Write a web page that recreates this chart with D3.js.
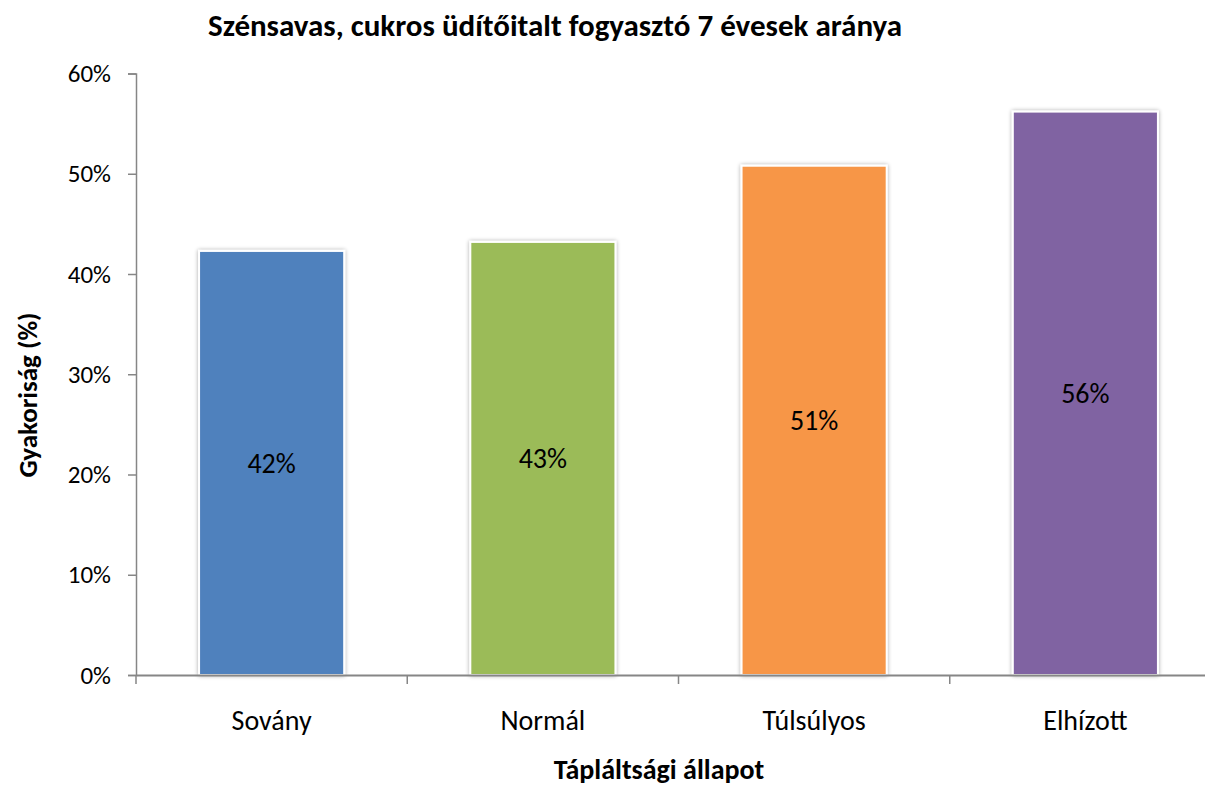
<!DOCTYPE html>
<html>
<head>
<meta charset="utf-8">
<script src="https://cdn.jsdelivr.net/npm/d3@7"></script>
<style>
  body { margin: 0; background: #fff; }
  text { font-family: Carlito, Calibri, Lato, 'Open Sans', sans-serif; fill: #000; }
</style>
</head>
<body>
<div id="chart"></div>
<script>
// data
var categories = ['Sovány', 'Normál', 'Túlsúlyos', 'Elhízott']
var values = [42.3, 43.2, 50.8, 56.2]
var labels = ['42%', '43%', '51%', '56%']
var colors = ['#4F81BD', '#9BBB59', '#F79646', '#8064A2']
var yTicks = [0, 10, 20, 30, 40, 50, 60]

var width = 1205
var height = 787
var plotLeft = 136
var plotRight = 1221
var plotTop = 73.5
var plotBottom = 675

var svg = d3.select('#chart').append('svg')
  .attr('width', width)
  .attr('height', height)

var defs = svg.append('defs')
var f = defs.append('filter').attr('id', 'shadow')
  .attr('x', '-10%').attr('y', '-10%').attr('width', '120%').attr('height', '120%')
f.append('feGaussianBlur').attr('in', 'SourceAlpha').attr('stdDeviation', 2).attr('result', 'b')
f.append('feComponentTransfer').attr('in', 'b').attr('result', 's')
  .append('feFuncA').attr('type', 'linear').attr('slope', 0.35)
var merge = f.append('feMerge')
merge.append('feMergeNode').attr('in', 's')
merge.append('feMergeNode').attr('in', 'SourceGraphic')

var x = d3.scaleBand()
  .domain(categories)
  .range([plotLeft, plotRight])
  .paddingInner(0.465)
  .paddingOuter(0.2325)

var y = d3.scaleLinear()
  .domain([0, 60])
  .range([plotBottom, plotTop])

// bars
svg.append('g').selectAll('rect')
  .data(values)
  .enter().append('rect')
  .attr('x', function (d, i) { return x(categories[i]) })
  .attr('y', function (d) { return y(d) })
  .attr('width', x.bandwidth())
  .attr('height', function (d) { return y(0) - y(d) })
  .attr('fill', function (d, i) { return colors[i] })
  .attr('stroke', '#fff')
  .attr('stroke-width', 2)
  .attr('filter', 'url(#shadow)')

// value labels
svg.append('g').selectAll('text')
  .data(values)
  .enter().append('text')
  .attr('x', function (d, i) { return x(categories[i]) + x.bandwidth() / 2 })
  .attr('y', function (d) { return (y(d) + y(0)) / 2 })
  .attr('dy', '0.35em')
  .attr('text-anchor', 'middle')
  .style('font-size', '28px')
  .text(function (d, i) { return labels[i] })

// y axis
var yAxis = d3.axisLeft(y)
  .tickValues(yTicks)
  .tickSize(8)
  .tickPadding(17)
  .tickFormat(function (d) { return d + '%' })

var gy = svg.append('g')
  .attr('class', 'y axis')
  .attr('transform', 'translate(' + plotLeft + ',0)')
  .call(yAxis)
gy.select('.domain').attr('stroke', '#868686').attr('stroke-width', 1.5)
gy.selectAll('.tick line').attr('stroke', '#868686').attr('stroke-width', 1.5)
gy.selectAll('.tick text').style('font-size', '25px').style('font-family', 'Carlito, Calibri, Lato, sans-serif')

// x axis
var xAxis = d3.axisBottom(x).tickSize(0).tickPadding(35)
var gx = svg.append('g')
  .attr('class', 'x axis')
  .attr('transform', 'translate(0,' + plotBottom + ')')
  .call(xAxis)
gx.select('.domain').attr('stroke', '#868686').attr('stroke-width', 2)
gx.selectAll('.tick text').style('font-size', '28px').style('font-family', 'Carlito, Calibri, Lato, sans-serif')

// x tick marks on the band boundaries
var bounds = d3.range(categories.length + 1).map(function (i) { return plotLeft + i * x.step() })
gx.selectAll('line.sep')
  .data(bounds)
  .enter().append('line')
  .attr('class', 'sep')
  .attr('x1', function (d) { return d })
  .attr('x2', function (d) { return d })
  .attr('y1', 0)
  .attr('y2', 9)
  .attr('stroke', '#868686')
  .attr('stroke-width', 1.5)

// titles
svg.append('text')
  .attr('x', 555)
  .attr('y', 36)
  .attr('text-anchor', 'middle')
  .style('font-size', '31px')
  .style('font-weight', 'bold')
  .text('Szénsavas, cukros üdítőitalt fogyasztó 7 évesek aránya')

svg.append('text')
  .attr('x', 659)
  .attr('y', 779)
  .attr('text-anchor', 'middle')
  .style('font-size', '28px')
  .style('font-weight', 'bold')
  .text('Tápláltsági állapot')

svg.append('text')
  .attr('transform', 'translate(37,395) rotate(-90)')
  .attr('text-anchor', 'middle')
  .style('font-size', '27px')
  .style('font-weight', 'bold')
  .text('Gyakoriság (%)')
</script>
</body>
</html>
